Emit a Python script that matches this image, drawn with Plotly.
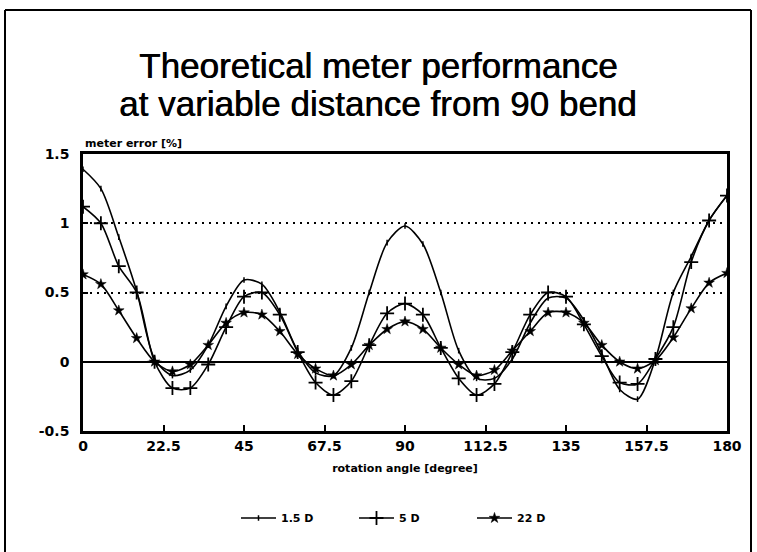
import plotly.graph_objects as go

# rotation angle (degree)
angle = [0, 5, 10, 15, 20, 25, 30, 35, 40, 45, 50, 55, 60, 65, 70, 75, 80, 85, 90,
         95, 100, 105, 110, 115, 120, 125, 130, 135, 140, 145, 150, 155, 160, 165, 170, 175, 180]

err_1_5D = [1.39, 1.25, 0.90, 0.51, 0.02, -0.10, -0.06, 0.12, 0.40, 0.59, 0.56, 0.36, 0.08,
            -0.08, -0.10, 0.10, 0.50, 0.86, 0.98, 0.85, 0.50, 0.08, -0.12, -0.12, 0.02,
            0.28, 0.46, 0.46, 0.30, 0.06, -0.20, -0.27, 0.02, 0.50, 0.76, 1.02, 1.20]

err_5D = [1.12, 1.00, 0.69, 0.50, 0.00, -0.19, -0.19, -0.02, 0.25, 0.47, 0.50, 0.34, 0.07,
          -0.15, -0.24, -0.14, 0.12, 0.35, 0.42, 0.34, 0.10, -0.12, -0.24, -0.16, 0.07,
          0.34, 0.50, 0.47, 0.27, 0.04, -0.15, -0.16, 0.02, 0.25, 0.72, 1.02, 1.20]

err_22D = [0.63, 0.56, 0.37, 0.17, 0.00, -0.07, -0.02, 0.12, 0.28, 0.355, 0.34, 0.22, 0.055,
           -0.05, -0.10, -0.02, 0.12, 0.235, 0.29, 0.235, 0.10, -0.02, -0.10, -0.06, 0.08,
           0.22, 0.355, 0.355, 0.28, 0.12, 0.00, -0.05, 0.01, 0.175, 0.385, 0.57, 0.64]

x_tickvals = [0, 22.5, 45, 67.5, 90, 112.5, 135, 157.5, 180]
x_ticktext = ["0", "22.5", "45", "67.5", "90", "112.5", "135", "157.5", "180"]
y_tickvals = [-0.5, 0, 0.5, 1, 1.5]
y_ticktext = ["-0.5", "0", "0.5", "1", "1.5"]

title_lines = ["Theoretical meter performance", "at variable distance from 90 bend"]

FONT = "DejaVu Sans, Verdana, sans-serif"
TFONT = "Liberation Sans, Arial, sans-serif"

fig = go.Figure()
fig.add_trace(go.Scatter(
    x=angle, y=err_1_5D, name="1.5 D", mode="lines+markers",
    line=dict(color="black", width=1.6, shape="spline", smoothing=0.8),
    marker=dict(symbol="line-ns", size=4, color="black", line=dict(color="black", width=1.5)),
))
fig.add_trace(go.Scatter(
    x=angle, y=err_5D, name="5 D", mode="lines+markers",
    line=dict(color="black", width=1.6, shape="spline", smoothing=0.8),
    marker=dict(symbol="cross-thin", size=10, color="black", line=dict(color="black", width=1.8)),
))
fig.add_trace(go.Scatter(
    x=angle, y=err_22D, name="22 D", mode="lines+markers",
    line=dict(color="black", width=1.6, shape="spline", smoothing=0.8),
    marker=dict(symbol="star", size=8, color="black", line=dict(color="black", width=0.5)),
))

# plot area geometry (pixels)
L, R, T, B = 83, 30, 154, 121
W, H = 757, 552
pw, ph = W - L - R, H - T - B
def px(xp):
    return (xp - L) / pw
def py(yp):
    return (H - B - yp) / ph

shapes = [
    dict(type="line", xref="paper", yref="paper", x0=px(5), x1=px(5), y0=py(10), y1=py(560),
         line=dict(color="black", width=2)),
    dict(type="line", xref="paper", yref="paper", x0=px(5), x1=px(751), y0=py(10), y1=py(10),
         line=dict(color="black", width=2)),
    dict(type="line", xref="paper", yref="paper", x0=px(751), x1=px(751), y0=py(10), y1=py(560),
         line=dict(color="black", width=2)),
]

tfont = dict(size=35, family=TFONT, color="black", shadow="0.6px 0px 0px black")
annotations = [
    dict(text=title_lines[0], xref="paper", yref="paper", x=px(378), y=py(65),
         xanchor="center", yanchor="middle", showarrow=False, font=tfont),
    dict(text=title_lines[1], xref="paper", yref="paper", x=px(378), y=py(103),
         xanchor="center", yanchor="middle", showarrow=False, font=tfont),
    dict(text="meter error [%]", xref="paper", yref="paper", x=0, y=py(143),
         xanchor="left", yanchor="middle", showarrow=False,
         font=dict(size=11, family=FONT, weight="bold")),
]

fig.update_layout(
    width=W, height=H,
    margin=dict(l=L, r=R, t=T, b=B, autoexpand=False),
    paper_bgcolor="white", plot_bgcolor="white",
    font=dict(family=FONT, color="black"),
    showlegend=True,
    legend=dict(orientation="h", x=px(236), xanchor="left", y=py(518), yanchor="middle",
                font=dict(size=11, weight="bold", family=FONT), itemwidth=35,
                entrywidth=68, entrywidthmode="pixels", traceorder="normal",
                bgcolor="rgba(0,0,0,0)"),
    shapes=shapes,
    annotations=annotations,
)

fig.update_xaxes(
    range=[0, 180], tickvals=x_tickvals, ticktext=x_ticktext,
    showline=True, linecolor="black", linewidth=2.5, mirror=True,
    ticks="inside", ticklen=6, tickwidth=1.5, tickcolor="black",
    showgrid=False, zeroline=False, automargin=False,
    tickfont=dict(size=14, weight="bold", family=FONT),
    title=dict(text="rotation angle [degree]", font=dict(size=11, weight="bold", family=FONT),
               standoff=12),
)
fig.update_yaxes(
    range=[-0.5, 1.5], tickvals=y_tickvals, ticktext=y_ticktext,
    showline=True, linecolor="black", linewidth=2.5, mirror=True,
    ticks="inside", ticklen=5, tickwidth=1.5, tickcolor="black",
    showgrid=True, gridcolor="black", griddash="2px,5px", gridwidth=1.5,
    zeroline=True, zerolinecolor="black", zerolinewidth=1.5, automargin=False,
    ticklabelstandoff=8,
    tickfont=dict(size=14, weight="bold", family=FONT),
)

fig.write_html("out.html", config={"displayModeBar": False},
               post_script="document.body.style.margin='0px';")
